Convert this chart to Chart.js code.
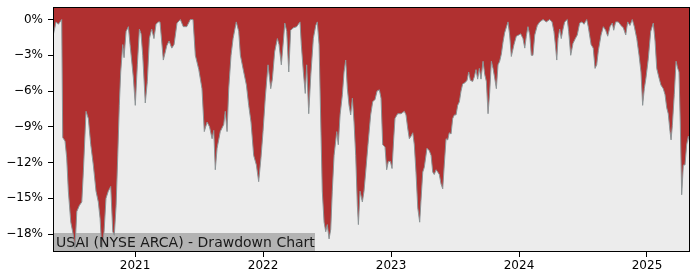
<!DOCTYPE html>
<html>
<head>
<meta charset="utf-8">
<script src="https://cdn.jsdelivr.net/npm/chart.js@4.4.1/dist/chart.umd.min.js"></script>
<style>
  body { margin: 0; background: #fff; }
</style>
</head>
<body>
<canvas id="dd" width="700" height="280"></canvas>
<script>
// dates as decimal years, drawdown in percent
const dates = [
  2020.359, 2020.383, 2020.401, 2020.427, 2020.435, 2020.453, 2020.466, 2020.479, 2020.498, 2020.518,
  2020.531, 2020.545, 2020.565, 2020.584, 2020.596, 2020.617, 2020.635, 2020.654, 2020.674, 2020.695,
  2020.713, 2020.727, 2020.740, 2020.758, 2020.773, 2020.791, 2020.810, 2020.826, 2020.838, 2020.852,
  2020.865, 2020.877, 2020.888, 2020.904, 2020.914, 2020.930, 2020.948, 2020.961, 2020.987, 2021.002,
  2021.018, 2021.034, 2021.047, 2021.060, 2021.080, 2021.096, 2021.112, 2021.130, 2021.148, 2021.164,
  2021.182, 2021.195, 2021.221, 2021.248, 2021.266, 2021.287, 2021.305, 2021.328, 2021.354, 2021.377,
  2021.404, 2021.432, 2021.453, 2021.471, 2021.498, 2021.523, 2021.541, 2021.563, 2021.582, 2021.602,
  2021.615, 2021.627, 2021.641, 2021.666, 2021.693, 2021.705, 2021.719, 2021.732, 2021.750, 2021.766,
  2021.791, 2021.810, 2021.823, 2021.849, 2021.870, 2021.888, 2021.906, 2021.927, 2021.948, 2021.966,
  2021.984, 2022.000, 2022.018, 2022.039, 2022.060, 2022.073, 2022.091, 2022.112, 2022.125, 2022.143,
  2022.159, 2022.170, 2022.185, 2022.201, 2022.216, 2022.237, 2022.263, 2022.276, 2022.289, 2022.299,
  2022.315, 2022.330, 2022.341, 2022.357, 2022.373, 2022.393, 2022.412, 2022.424, 2022.438, 2022.451,
  2022.463, 2022.477, 2022.490, 2022.502, 2022.516, 2022.529, 2022.541, 2022.555, 2022.576, 2022.588,
  2022.602, 2022.620, 2022.633, 2022.646, 2022.659, 2022.672, 2022.685, 2022.698, 2022.711, 2022.724,
  2022.737, 2022.745, 2022.758, 2022.776, 2022.789, 2022.802, 2022.820, 2022.841, 2022.857, 2022.875,
  2022.891, 2022.909, 2022.922, 2022.935, 2022.953, 2022.966, 2022.979, 2022.995, 2023.008, 2023.021,
  2023.031, 2023.052, 2023.078, 2023.104, 2023.117, 2023.130, 2023.143, 2023.156, 2023.170, 2023.182,
  2023.195, 2023.209, 2023.224, 2023.234, 2023.248, 2023.260, 2023.281, 2023.299, 2023.313, 2023.326,
  2023.338, 2023.352, 2023.365, 2023.377, 2023.391, 2023.404, 2023.416, 2023.430, 2023.443, 2023.455,
  2023.469, 2023.482, 2023.495, 2023.508, 2023.521, 2023.534, 2023.547, 2023.560, 2023.578, 2023.594,
  2023.607, 2023.620, 2023.638, 2023.651, 2023.664, 2023.677, 2023.690, 2023.703, 2023.719, 2023.732,
  2023.745, 2023.758, 2023.771, 2023.784, 2023.797, 2023.810, 2023.823, 2023.836, 2023.849, 2023.862,
  2023.875, 2023.888, 2023.914, 2023.927, 2023.940, 2023.961, 2023.979, 2023.998, 2024.013, 2024.031,
  2024.045, 2024.057, 2024.070, 2024.084, 2024.096, 2024.109, 2024.123, 2024.143, 2024.162, 2024.188,
  2024.213, 2024.240, 2024.258, 2024.273, 2024.284, 2024.295, 2024.305, 2024.318, 2024.330, 2024.344,
  2024.357, 2024.377, 2024.388, 2024.404, 2024.422, 2024.440, 2024.455, 2024.474, 2024.492, 2024.508,
  2024.529, 2024.541, 2024.563, 2024.580, 2024.594, 2024.607, 2024.620, 2024.641, 2024.659, 2024.677,
  2024.693, 2024.711, 2024.729, 2024.740, 2024.755, 2024.776, 2024.797, 2024.815, 2024.834, 2024.849,
  2024.867, 2024.885, 2024.901, 2024.920, 2024.938, 2024.953, 2024.966, 2024.979, 2024.992, 2025.010,
  2025.029, 2025.049, 2025.063, 2025.076, 2025.094, 2025.109, 2025.127, 2025.141, 2025.154, 2025.166,
  2025.180, 2025.188, 2025.198, 2025.213, 2025.227, 2025.240, 2025.250, 2025.260, 2025.271, 2025.284,
  2025.297, 2025.310, 2025.323, 2025.336
];
const drawdown = [
  -1.4, -0.2, -0.4, 0, -9.9, -10.2, -11.6, -14.4, -17, -18.1,
  -19.2, -16.1, -15.6, -15.3, -12.8, -7.7, -8.3, -10.5, -12.2, -14.4,
  -15.3, -16.7, -19.2, -17.8, -15, -14.4, -14, -17.8, -18.1, -15.6,
  -11.4, -7.2, -4.4, -2.1, -3.2, -1, -0.6, -2.1, -4.9, -7.2,
  -3.8, -0.8, -1.2, -3, -7, -5.2, -1.6, -0.8, -1.6, -0.4,
  -0.2, -0.2, -3.4, -2.2, -1.8, -2.4, -2.1, -0.3, 0, -0.6,
  -0.6, 0, 0, -3, -4.2, -5.8, -9.4, -8.6, -9.0, -10,
  -9.3, -12.6, -10.8, -9.4, -8.8, -7.7, -9.4, -5.8, -3, -1.6,
  -0.2, -1, -3, -4.4, -5.5, -7.2, -8.6, -11.4, -12.2, -13.6,
  -11.6, -9.4, -6.5, -3.8, -5.8, -5.0, -2.7, -1.6, -2.1, -3.8,
  -1.8, -0.3, -1.0, -4.4, -0.9, -0.7, -0.6, -0.4, -0.2, -2.1,
  -4.4, -6.2, -3.8, -7.9, -4.7, -1.6, -0.5, -0.2, -2.1, -8.6,
  -14.4, -17, -17.8, -17.2, -18.4, -17.6, -14.4, -11.4, -9.4, -10.5,
  -8, -6.3, -4.4, -3.4, -5.8, -7.2, -8, -6.6, -8.6, -11.4,
  -15.6, -17.2, -14.4, -15.3, -14.4, -12.8, -10.5, -8, -6.9, -6.7,
  -6, -5.9, -6.6, -10.5, -10.7, -12.6, -11.9, -11.9, -12.5, -10,
  -8.3, -7.9, -7.9, -7.7, -8, -9.1, -10, -9.8, -9.5, -10.5,
  -12.8, -15.8, -17, -15.2, -12.8, -12.4, -10.8, -11.0, -11.4, -12.8,
  -13.0, -12.6, -12.8, -13, -13.8, -14.2, -12.2, -10, -10.1, -9.5,
  -9.6, -8.3, -8.0, -8.0, -7.2, -6.9, -6, -5.4, -5.3, -5.1,
  -4.4, -5.1, -5.2, -4.8, -4.2, -5.0, -4.1, -5.0, -3.5, -4.6,
  -5.2, -7.9, -6.1, -3.5, -4.1, -4.9, -5.8, -3.8, -3.5, -2.9,
  -1.9, -1.1, -0.2, -1.3, -3.1, -2.1, -1.4, -1.3, -1.2, -1.6,
  -2.4, -1.4, -0.6, -1.3, -3, -3, -1.3, -0.5, -0.2, 0,
  -0.2, 0, -0.2, -1.0, -2.1, -3.4, -1.6, -0.8, -1.6, -0.8,
  -0.2, 0, -1.0, -3, -2, -1.6, -1.3, -0.3, -0.2, -0.4,
  0, -0.6, -2.1, -2.4, -4.1, -3.8, -2.6, -1.3, -0.6, -0.9,
  -1.4, -0.6, -0.3, -0.9, -0.2, -0.2, -0.5, -0.7, -1.3, -0.2,
  -0.5, 0, -0.6, -1.6, -3, -4.4, -7.2, -5.8, -4.9, -3.3,
  -1, -0.3, -1.8, -4.1, -4.9, -5.5, -5.8, -6.3, -7.4, -7.9,
  -9.4, -10.1, -8.9, -6.3, -3.5, -4.1, -4.4, -8.6, -14.7, -12.2,
  -12.2, -10.5, -9.8, -10.5
];
const yearTicks = [2021, 2022, 2023, 2024, 2025];
const pctTicks = [0, -3, -6, -9, -12, -15, -18];

const font = { family: 'DejaVu Sans', size: 12 };

const plotFrame = {
  id: 'plotFrame',
  beforeDraw(chart) {
    const { ctx, chartArea: a } = chart;
    ctx.save();
    ctx.fillStyle = '#ececec';
    ctx.fillRect(a.left, a.top, a.right - a.left, a.bottom - a.top);
    ctx.restore();
  },
  beforeDatasetsDraw(chart) {
    const { ctx, chartArea: a } = chart;
    ctx.save();
    ctx.fillStyle = '#b3b3b3';
    ctx.fillRect(a.left, a.bottom - 19, 262, 19);
    ctx.restore();
  },
  afterDatasetsDraw(chart) {
    const { ctx, chartArea: a } = chart;
    ctx.save();
    ctx.font = '14px "DejaVu Sans"';
    ctx.fillStyle = '#1a1a1a';
    ctx.textBaseline = 'middle';
    ctx.fillText('USAI (NYSE ARCA) - Drawdown Chart', a.left + 3, a.bottom - 9);
    ctx.strokeStyle = '#000';
    ctx.lineWidth = 1;
    ctx.strokeRect(a.left + 0.5, a.top + 0.5, a.right - a.left - 1, a.bottom - a.top - 1);
    ctx.restore();
  }
};

new Chart(document.getElementById('dd'), {
  type: 'line',
  data: {
    datasets: [{
      data: dates.map((d, i) => ({ x: d, y: drawdown[i] })),
      borderColor: '#8c9496',
      borderWidth: 1,
      backgroundColor: '#b03030',
      fill: 'end',
      pointRadius: 0,
      tension: 0
    }]
  },
  options: {
    responsive: false,
    animation: false,
    devicePixelRatio: 1,
    layout: { padding: { top: 7, right: 10, left: 0, bottom: 0 } },
    plugins: { legend: { display: false }, tooltip: { enabled: false } },
    scales: {
      x: {
        type: 'linear',
        min: 2020.359,
        max: 2025.336,
        afterBuildTicks: s => { s.ticks = yearTicks.map(v => ({ value: v })); },
        afterFit: s => { s.height = 28; s.paddingLeft = 0; s.paddingRight = 0; },
        ticks: { font, color: '#000', padding: 2, maxRotation: 0, callback: v => String(v) },
        grid: { drawOnChartArea: false, tickLength: 5, tickColor: '#000' },
        border: { display: false }
      },
      y: {
        min: -19.5,
        max: 1.05,
        afterBuildTicks: s => { s.ticks = pctTicks.map(v => ({ value: v })); },
        afterFit: s => { s.width = 53; s.paddingTop = 0; s.paddingBottom = 0; },
        ticks: { font, color: '#000', padding: 5, callback: v => (v < 0 ? '\u2212' + Math.abs(v) : v) + '%' },
        grid: { drawOnChartArea: false, tickLength: 5, tickColor: '#000' },
        border: { display: false }
      }
    }
  },
  plugins: [plotFrame]
});
</script>
</body>
</html>
